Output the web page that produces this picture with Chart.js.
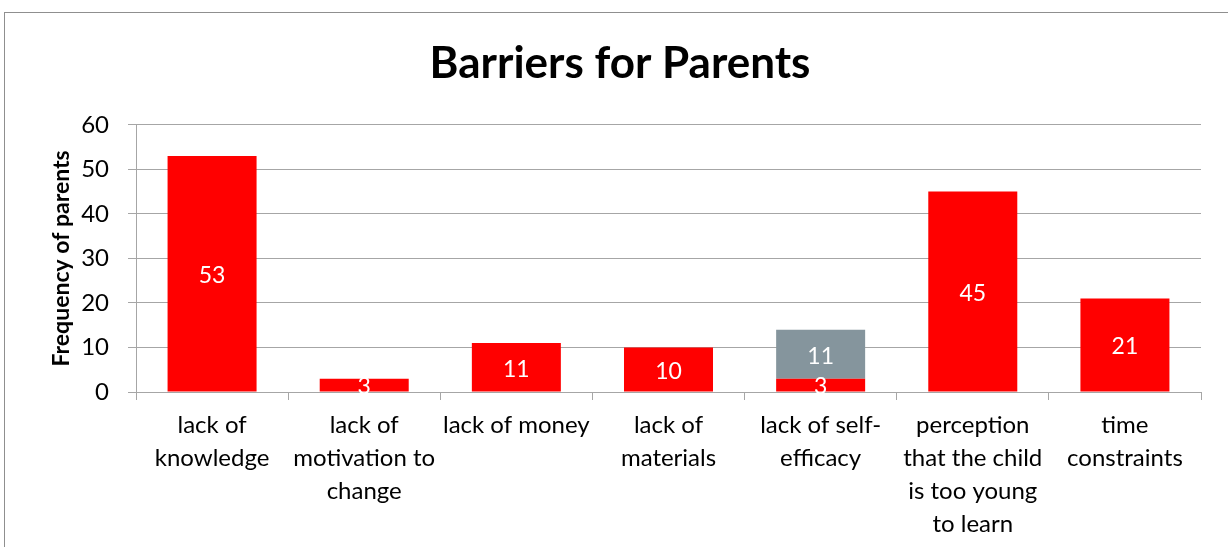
<!DOCTYPE html>
<html>
<head>
<meta charset="utf-8">
<script src="https://cdn.jsdelivr.net/npm/chart.js@4"></script>
<style>
  html, body { margin: 0; padding: 0; background: #fff; overflow: hidden; }
  #frame { position: absolute; left: 4px; top: 12px; width: 1400px; height: 700px; border: 1px solid #8f8f8f; }
  #wrap { position: absolute; left: 0; top: 0; width: 1228px; height: 547px; }
</style>
</head>
<body>
<div id="frame"></div>
<div id="wrap"><canvas id="chart" width="1228" height="547"></canvas></div>
<script>
const categories = [
  ["lack of", "knowledge"],
  ["lack of", "motivation to", "change"],
  "lack of money",
  ["lack of", "materials"],
  ["lack of self-", "efficacy"],
  ["perception", "that the child", "is too young", "to learn"],
  ["time", "constraints"]
];
const redValues = [53, 3, 11, 10, 3, 45, 21];
const grayValues = [0, 0, 0, 0, 11, 0, 0];

const fontFamily = "Lato, 'Open Sans', sans-serif";
const gridColor = "#a6a6a6";

// writes each segment's value in white at the middle of its bar
const valueLabels = {
  id: "valueLabels",
  afterDatasetsDraw(chart) {
    const ctx = chart.ctx;
    ctx.save();
    ctx.fillStyle = "#ffffff";
    ctx.font = "23px " + fontFamily;
    ctx.textAlign = "center";
    ctx.textBaseline = "middle";
    chart.data.datasets.forEach((ds, i) => {
      const meta = chart.getDatasetMeta(i);
      meta.data.forEach((bar, j) => {
        const v = ds.data[j];
        if (!v) return;
        ctx.fillText(String(v), bar.x, (bar.y + bar.base) / 2 + 2);
      });
    });
    ctx.restore();
  }
};

new Chart(document.getElementById("chart"), {
  type: "bar",
  plugins: [valueLabels],
  data: {
    labels: categories,
    datasets: [
      { data: redValues, backgroundColor: "#ff0000", categoryPercentage: 1, barPercentage: 0.585 },
      { data: grayValues, backgroundColor: "#85959d", categoryPercentage: 1, barPercentage: 0.585 }
    ]
  },
  options: {
    responsive: false,
    animation: false,
    devicePixelRatio: 1,
    layout: { padding: { left: 39, right: 27, top: 0, bottom: 0 } },
    plugins: {
      legend: { display: false },
      tooltip: { enabled: false },
      title: {
        display: true,
        text: "Barriers for Parents",
        color: "#000",
        font: { family: fontFamily, size: 44, weight: "bold" },
        padding: { top: 37, bottom: 35 }
      }
    },
    scales: {
      x: {
        stacked: true,
        afterFit: s => { s.height = 155; },
        grid: { drawOnChartArea: false, drawTicks: true, tickLength: 8, color: gridColor },
        border: { color: gridColor },
        ticks: {
          color: "#000",
          maxRotation: 0,
          autoSkip: false,
          padding: 9,
          font: { family: fontFamily, size: 24, lineHeight: 1.375 }
        }
      },
      y: {
        stacked: true,
        min: 0,
        max: 60,
        afterFit: s => { s.width = 97; },
        grid: { color: gridColor, tickLength: 8 },
        border: { color: gridColor },
        ticks: {
          stepSize: 10,
          color: "#000",
          padding: 19,
          font: { family: fontFamily, size: 24 }
        },
        title: {
          display: true,
          text: "Frequency of parents",
          color: "#000",
          font: { family: fontFamily, size: 23, weight: "bold" },
          padding: { top: 9, bottom: 0 }
        }
      }
    }
  }
});
</script>
</body>
</html>
